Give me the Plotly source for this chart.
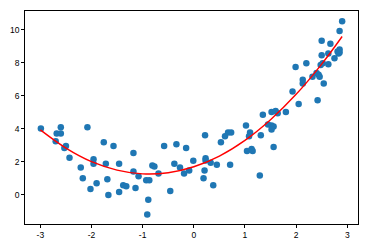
import plotly.graph_objects as go

# scatter data
x_pts = [-2.99, -2.60, -2.68, -2.60, -2.70, -2.50, -2.53, -2.43, -2.08, -1.76,
         -1.57, -2.21, -1.96, -1.96, -1.72, -1.46, -2.17, -2.02, -1.90, -1.69,
         -1.67, -1.46, -1.38, -1.32, -1.18, -1.18, -1.14, -1.08, -0.93, -0.87,
         -0.89, -0.91, -0.81, -0.77, -0.69, -0.58, -0.46, -0.38, -0.34, -0.27,
         -0.19, -0.15, -0.09, -0.01, 0.22, 0.23, 0.23, 0.21, 0.19, 0.38,
         0.33, 0.45, 0.71, 0.53, 0.61, 0.67, 0.73, 1.02, 1.10, 1.08,
         1.04, 1.13, 1.15, 1.29, 1.31, 1.35, 1.45, 1.52, 1.56, 1.52,
         1.56, 1.52, 1.60, 1.64, 1.80, 2.05, 1.93, 2.13, 2.13, 1.99,
         2.20, 2.32, 2.42, 2.40, 2.44, 2.46, 2.54, 2.48, 2.52, 2.50,
         2.50, 2.63, 2.63, 2.67, 2.75, 2.81, 2.85, 2.85, 2.83, 2.85, 2.90]
y_pts = [4.01, 4.09, 3.72, 3.72, 3.24, 2.95, 2.83, 2.24, 4.09, 3.18,
         2.95, 1.65, 2.16, 1.89, 1.89, 1.89, 1.00, 0.35, 0.71, 0.94,
         0.00, 0.18, 0.59, 0.53, 2.54, 1.42, 0.41, 1.12, 0.88, 0.88,
         -0.30, -1.18, 1.77, 1.71, 1.30, 2.95, 0.24, 1.89, 3.07, 1.65,
         1.30, 2.83, 1.47, 2.06, 3.60, 2.22, 2.08, 1.47, 1.00, 0.59,
         1.95, 1.83, 1.83, 3.19, 3.54, 3.78, 3.78, 4.19, 3.78, 3.54,
         2.65, 2.77, 2.65, 1.18, 3.60, 4.84, 4.25, 4.19, 4.13, 3.95,
         2.89, 5.01, 5.07, 4.93, 5.01, 5.49, 6.25, 6.96, 6.73, 7.73,
         7.96, 7.14, 5.72, 7.37, 7.26, 7.14, 6.73, 7.85, 7.96, 8.44,
         9.32, 8.55, 7.90, 9.14, 8.26, 8.67, 8.79, 8.61, 8.55, 9.91, 10.50]

# fitted curve values
x_fit = [-3.0, -2.5, -2.0, -1.5, -1.0, -0.5, 0.0, 0.5, 1.0, 1.5, 2.0, 2.5, 2.9]
y_fit = [3.93, 2.83, 2.01, 1.50, 1.27, 1.34, 1.70, 2.35, 3.30, 4.55, 6.08, 7.91, 9.58]

x_ticks = [-3, -2, -1, 0, 1, 2, 3]
x_tick_text = ["-3", "-2", "-1", "0", "1", "2", "3"]
y_ticks = [0, 2, 4, 6, 8, 10]
y_tick_text = ["0", "2", "4", "6", "8", "10"]

fig = go.Figure()
fig.add_trace(go.Scatter(x=x_pts, y=y_pts, mode="markers",
                         marker=dict(color="#1f77b4", size=6.5, line=dict(width=0)),
                         showlegend=False))
fig.add_trace(go.Scatter(x=x_fit, y=y_fit, mode="lines",
                         line=dict(color="red", width=1.4, shape="spline"),
                         showlegend=False))

axis_common = dict(showgrid=False, zeroline=False, showline=True, mirror=True,
                   linecolor="black", linewidth=0.8, ticks="outside", ticklen=3,
                   tickwidth=0.8, tickcolor="black",
                   tickfont=dict(family="Liberation Sans, Arial, sans-serif", size=8.5, color="black"))

fig.update_layout(
    width=369, height=250,
    margin=dict(l=24, r=10, t=10, b=22),
    paper_bgcolor="white", plot_bgcolor="white",
    xaxis=dict(range=[-3.3, 3.21], tickvals=x_ticks, ticktext=x_tick_text, **axis_common),
    yaxis=dict(range=[-1.76, 11.12], tickvals=y_ticks, ticktext=y_tick_text, **axis_common),
)

fig.write_html("out.html")
